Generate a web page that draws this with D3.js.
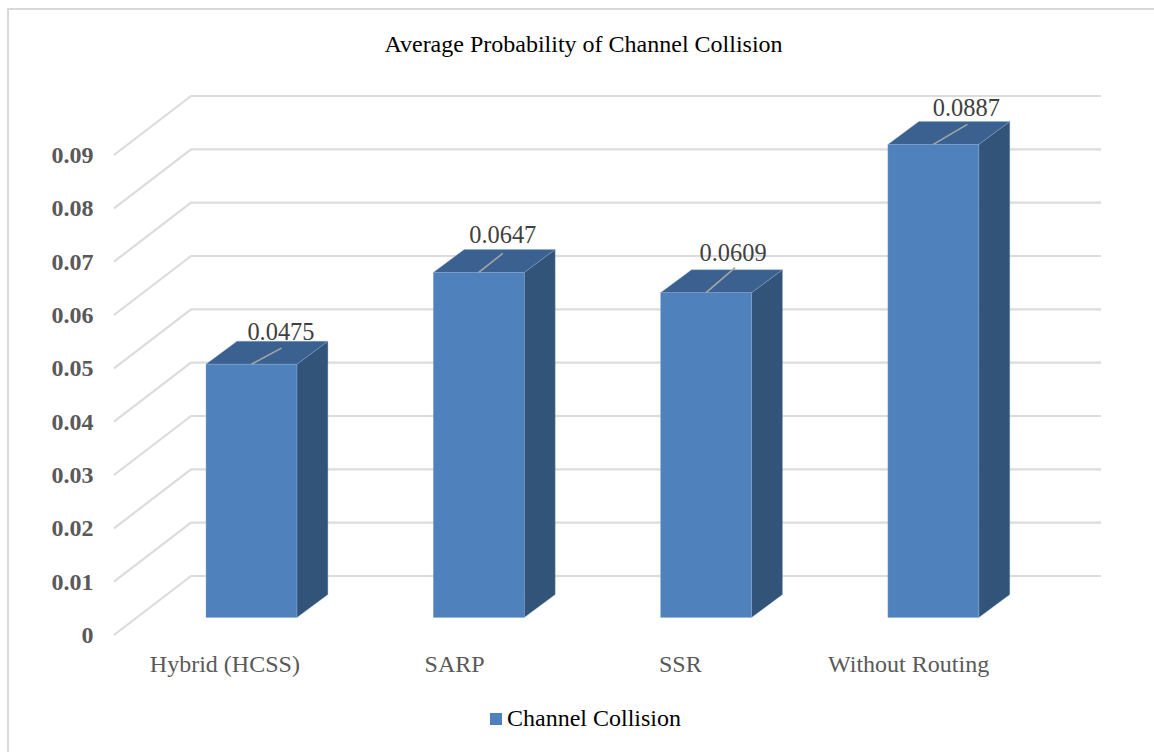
<!DOCTYPE html>
<html><head><meta charset="utf-8">
<script src="https://cdn.jsdelivr.net/npm/d3@7"></script>
<style>
html,body{margin:0;padding:0;background:#fff;overflow:hidden}
svg{display:block}
text{font-family:"Liberation Serif","Times New Roman",serif}
</style></head><body>
<div id="chart"></div>
<script>
const categories = ["Hybrid (HCSS)", "SARP", "SSR", "Without Routing"];
const values = [0.0475, 0.0647, 0.0609, 0.0887];
const valueLabels = ["0.0475", "0.0647", "0.0609", "0.0887"];
const yTicks = [0, 0.01, 0.02, 0.03, 0.04, 0.05, 0.06, 0.07, 0.08, 0.09];
const yTickLabels = ["0", "0.01", "0.02", "0.03", "0.04", "0.05", "0.06", "0.07", "0.08", "0.09"];
const seriesName = "Channel Collision";
const chartTitle = "Average Probability of Channel Collision";

const W = 1154, H = 752;
const svg = d3.select("#chart").append("svg").attr("width", W).attr("height", H);

// frame
svg.append("path").attr("d", "M8,752V9H1154")
  .attr("fill", "none").attr("stroke", "#d9d9d9").attr("stroke-width", 2);

// scales: front edge of wall, back edge of wall, bar front
const yFront = d3.scaleLinear().domain([0, 0.09]).range([635, 155]);
const yBack = d3.scaleLinear().domain([0, 0.09]).range([576, 96]);
const yBar = d3.scaleLinear().domain([0, 0.09]).range([617.5, 137.5]);
const x = d3.scaleBand().domain(categories).range([137.8, 1047]).paddingInner(0.6).paddingOuter(0.3);
const xLabel = d3.scaleBand().domain(categories).range([111, 1022]);

const wallX0 = 114, wallX1 = 191, gridEnd = 1101;
const depthX = 31, depthY = -23;

// gridlines
svg.append("g").selectAll("path").data(yTicks).join("path")
  .attr("d", d => `M${wallX0},${yFront(d)}L${wallX1},${yBack(d)}H${gridEnd}`)
  .attr("fill", "none").attr("stroke", "#dcdcdc").attr("stroke-width", 2.2);

// y labels
svg.append("g").selectAll("text").data(yTicks).join("text")
  .attr("x", 93.5).attr("y", d => yFront(d))
  .attr("dy", "0.34em")
  .attr("text-anchor", "end").attr("font-size", 24).attr("font-weight", "bold").attr("fill", "#595959")
  .text((d, i) => yTickLabels[i]);

// bars
const edge = "#8fadd2";
const bars = svg.append("g").selectAll("g").data(categories).join("g");
const bw = x.bandwidth();
bars.append("path").attr("fill", "#325479").attr("stroke", edge).attr("stroke-width", 0.5).attr("stroke-opacity", 0.7)
  .attr("d", (c, i) => {
    const xr = x(c) + bw, t = yBar(values[i]), b = yBar(0);
    return `M${xr},${t}L${xr + depthX},${t + depthY}V${b + depthY}L${xr},${b}Z`;
  });
bars.append("path").attr("fill", "#3b6190").attr("stroke", edge).attr("stroke-width", 0.5).attr("stroke-opacity", 0.7)
  .attr("d", (c, i) => {
    const xl = x(c), t = yBar(values[i]);
    return `M${xl},${t}L${xl + depthX},${t + depthY}H${xl + bw + depthX}L${xl + bw},${t}Z`;
  });
bars.append("rect").attr("fill", "#4f81bd").attr("stroke", edge).attr("stroke-width", 0.5).attr("stroke-opacity", 0.7)
  .attr("x", c => x(c)).attr("width", bw)
  .attr("y", (c, i) => yBar(values[i])).attr("height", (c, i) => yBar(0) - yBar(values[i]));

// leader lines + data labels
const leaderRise = [16, 19, 25, 20];
const leaderRun = [30, 24, 29, 34];
const labelShift = [29.5, 24, 27, 33];
const labelLift = [24, 29, 32, 28];
bars.append("line").attr("stroke", "#a6a6a6").attr("stroke-width", 1.6)
  .attr("x1", c => x(c) + bw / 2).attr("y1", (c, i) => yBar(values[i]))
  .attr("x2", (c, i) => x(c) + bw / 2 + leaderRun[i]).attr("y2", (c, i) => yBar(values[i]) - leaderRise[i]);
bars.append("text").attr("text-anchor", "middle").attr("font-size", 24.4).attr("fill", "#404040")
  .attr("x", (c, i) => x(c) + bw / 2 + labelShift[i])
  .attr("y", (c, i) => yBar(values[i]) - labelLift[i])
  .text((c, i) => valueLabels[i]);

// x labels
const xLabelShift = [0, 2, 0, 0.5];
svg.append("g").selectAll("text").data(categories).join("text")
  .attr("x", (c, i) => xLabel(c) + xLabel.bandwidth() / 2 + xLabelShift[i]).attr("y", 672)
  .attr("text-anchor", "middle").attr("font-size", 24).attr("fill", "#595959")
  .text(c => c);

// title
svg.append("text").attr("x", 583.5).attr("y", 52).attr("text-anchor", "middle")
  .attr("font-size", 24).attr("fill", "#000").text(chartTitle);

// legend
svg.append("rect").attr("x", 490).attr("y", 713).attr("width", 12).attr("height", 12).attr("fill", "#4f81bd");
svg.append("text").attr("x", 507).attr("y", 726).attr("font-size", 24).attr("fill", "#000").text(seriesName);
</script>
</body></html>
